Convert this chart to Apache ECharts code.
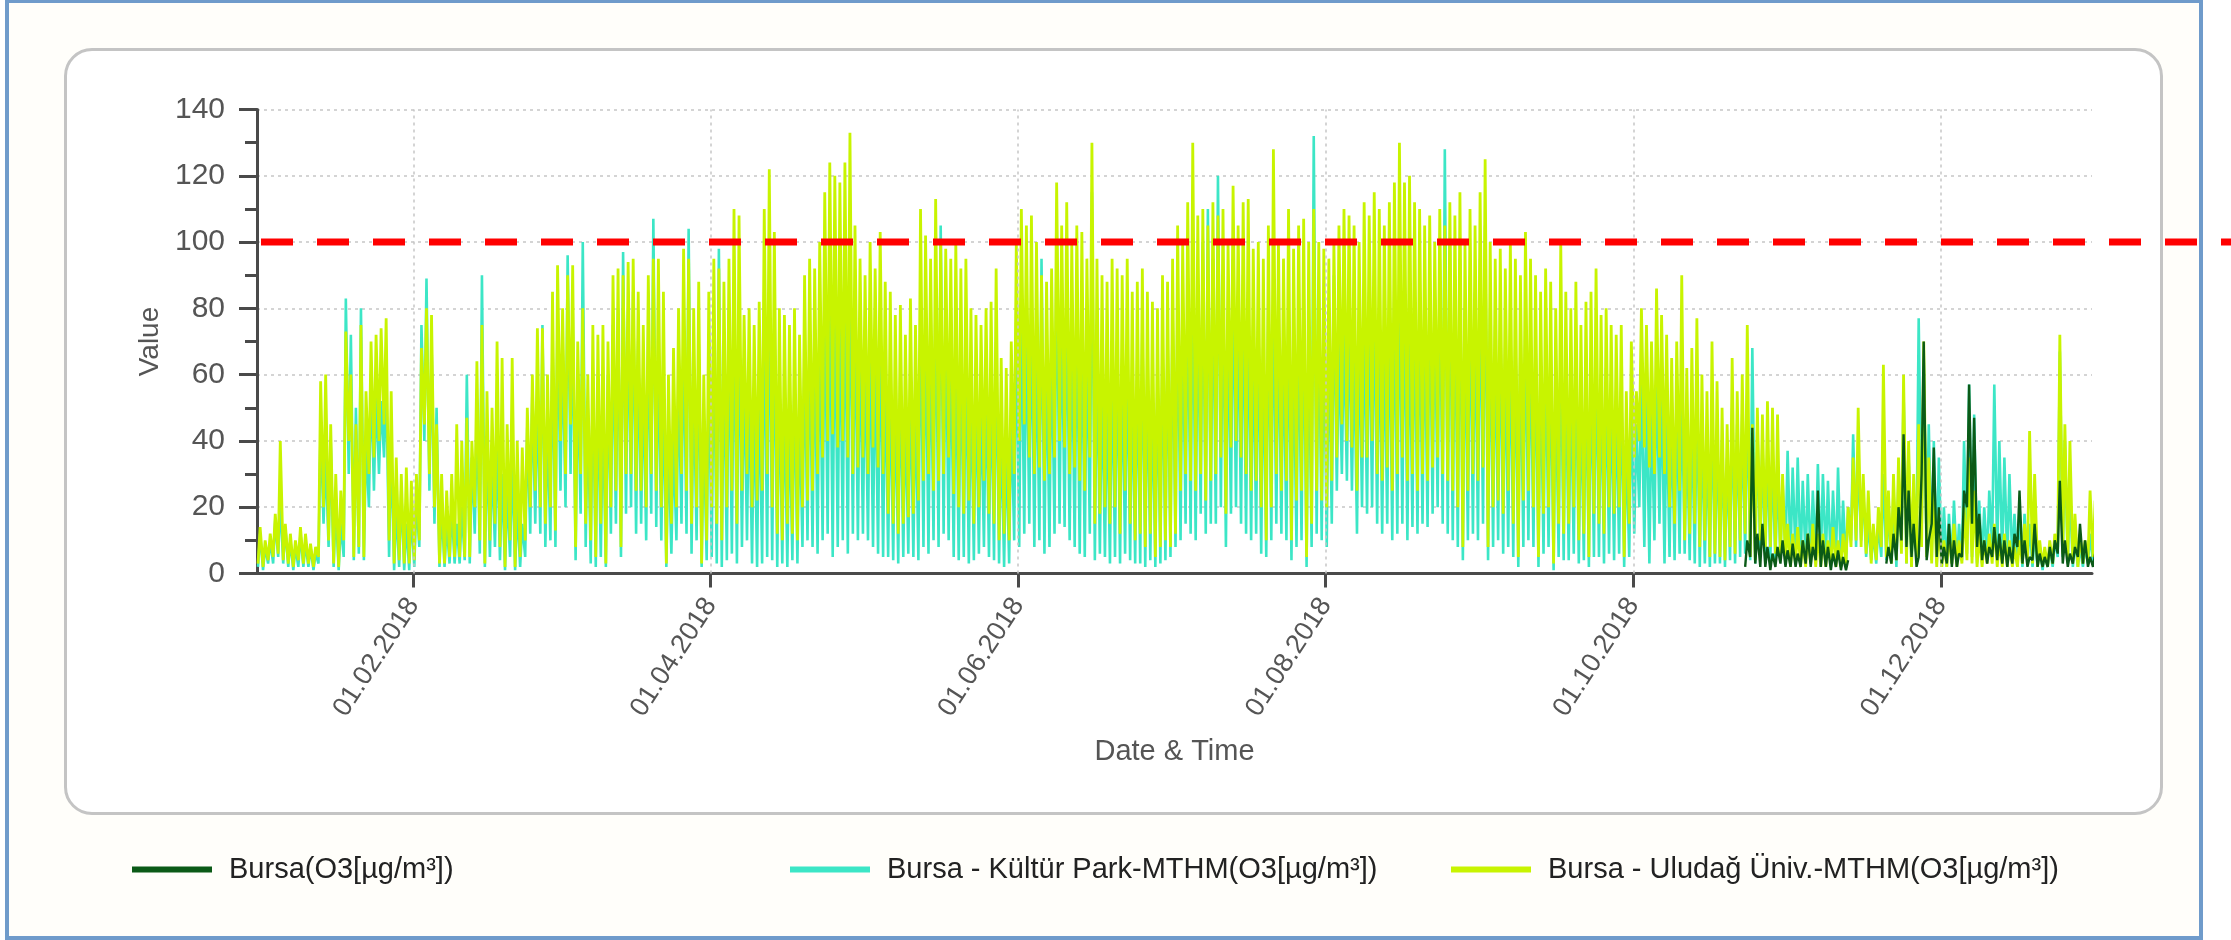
<!DOCTYPE html>
<html>
<head>
<meta charset="utf-8">
<script src="https://cdn.jsdelivr.net/npm/echarts@6/dist/echarts.min.js"></script>
<style>
  html, body { margin: 0; padding: 0; background: #ffffff; }
  #frame { position: absolute; left: 5px; top: -1px; width: 2198px; height: 941px; border: 4px solid #6f9bcb; background: #fffefa; box-sizing: border-box; }
  #panel { position: absolute; left: 64px; top: 48px; width: 2099px; height: 767px; border: 3px solid #c4c4c4; border-radius: 28px; background: #ffffff; box-sizing: border-box; }
  #chart { position: absolute; left: 0; top: 0; width: 2231px; height: 940px; }
</style>
</head>
<body>
<div id="frame"></div>
<div id="panel"></div>
<div id="chart"></div>
<script>
// ---------------- DATA ----------------
// x axis: day of year 2018 (0 = 01.01.2018)
const tickDays = [31, 90, 151, 212, 273, 334];
const tickLabels = ['01.02.2018', '01.04.2018', '01.06.2018', '01.08.2018', '01.10.2018', '01.12.2018'];
const limitValue = 100;

const nameBursa = 'Bursa(O3[µg/m³])';
const nameKultur = 'Bursa - Kültür Park-MTHM(O3[µg/m³])';
const nameUludag = 'Bursa - Uludağ Üniv.-MTHM(O3[µg/m³])';

// Bursa - Uludağ Üniv. : daily high / low (day 0..364)
const uludagHigh = [
  14,10,12,18,40,15,12,10,14,12,
  9,8,58,60,45,30,25,73,60,45,
  75,55,70,72,74,77,55,35,30,32,
  28,30,68,80,78,45,30,25,30,45,
  40,47,40,64,75,55,50,70,65,45,
  65,40,38,50,60,74,74,60,85,93,
  80,90,93,70,80,60,75,72,75,70,
  90,92,90,94,95,85,75,90,95,95,
  85,60,68,80,98,95,80,88,60,85,
  95,92,88,95,110,108,78,80,75,82,
  110,122,103,80,78,75,80,72,90,95,
  92,100,115,124,120,118,124,133,105,95,
  90,100,92,103,88,85,78,81,72,83,
  75,110,102,95,113,100,98,95,100,92,
  95,80,78,75,80,82,92,65,62,70,
  100,110,105,108,100,90,88,92,118,105,
  112,100,105,103,95,130,95,90,88,95,
  92,90,95,85,88,92,85,82,80,90,
  88,95,105,100,112,130,108,110,105,112,
  108,110,100,117,105,112,113,98,100,95,
  105,128,100,95,110,98,105,107,100,110,
  100,98,95,100,105,110,108,105,100,112,
  108,115,110,105,112,118,130,118,120,112,
  110,105,108,100,110,105,112,108,115,100,
  110,105,115,125,100,95,98,92,100,95,
  90,103,95,90,85,92,88,80,100,85,
  80,88,75,82,85,92,78,80,75,72,
  75,55,70,55,80,75,70,86,78,72,
  65,70,90,62,68,77,60,55,70,58,
  50,45,65,55,60,75,45,50,48,52,
  50,48,30,15,12,14,10,12,15,12,
  12,10,14,10,12,20,35,50,30,25,
  15,20,63,25,30,35,60,40,30,45,
  70,35,25,15,10,12,15,10,20,35,
  25,12,10,12,15,10,12,10,8,10,
  15,43,30,10,8,10,12,72,45,40,
  18,12,10,25,22
];
const uludagLow = [
  3,2,4,5,6,4,3,2,4,3,
  3,2,5,20,10,3,2,10,40,5,
  8,5,30,35,40,45,10,3,4,3,
  3,4,10,45,30,20,3,3,5,5,
  5,5,5,20,10,3,10,15,8,2,
  10,2,5,10,20,25,20,15,20,13,
  40,30,45,8,30,15,10,5,15,3,
  20,25,8,30,30,25,25,20,30,25,
  20,3,15,20,30,25,15,20,3,10,
  20,15,10,20,25,15,25,30,20,22,
  25,30,20,12,10,15,12,10,20,22,
  25,30,35,40,42,38,40,35,30,32,
  35,30,38,32,30,18,15,12,15,17,
  18,22,28,30,25,28,30,35,24,20,
  18,22,15,20,28,18,15,10,12,10,
  30,40,45,35,30,32,28,30,35,40,
  38,30,32,28,25,35,15,18,20,15,
  20,12,25,15,10,12,8,12,5,8,
  10,8,12,25,30,28,25,30,22,28,
  30,35,18,38,40,35,30,25,28,20,
  10,20,30,25,28,10,22,25,5,15,
  25,22,20,28,35,45,40,38,25,35,
  35,40,30,28,32,25,30,35,28,30,
  25,30,28,32,35,30,28,25,20,8,
  25,30,28,32,8,20,22,18,25,15,
  5,22,25,20,5,18,20,3,15,12,
  15,20,10,12,5,18,15,12,20,18,
  20,5,15,35,40,38,32,30,35,30,
  20,15,25,10,12,15,8,10,5,6,
  5,4,8,6,10,12,5,4,10,8,
  8,6,4,3,2,3,2,2,3,2,
  2,2,3,2,2,3,8,10,8,6,
  3,4,8,5,3,4,6,3,2,5,
  8,5,3,2,2,2,3,2,3,4,
  3,2,2,3,3,2,2,2,2,2,
  3,4,3,2,2,2,3,8,6,4,
  3,2,3,4,5
];

// Bursa - Kültür Park : daily high / low (day 0..364)
const kulturHigh = [
  12,8,10,16,22,14,10,8,12,9,
  8,6,45,35,40,20,15,83,72,50,
  80,40,60,55,52,60,40,20,25,15,
  18,22,75,89,70,50,20,15,20,15,
  20,60,35,50,90,40,35,40,30,25,
  35,20,15,45,55,55,75,45,70,80,
  70,96,80,60,100,50,60,55,50,60,
  75,80,97,80,85,70,60,75,107,70,
  55,40,40,60,75,104,60,70,45,65,
  75,98,70,80,85,80,65,60,55,60,
  85,95,80,60,55,50,60,50,70,75,
  75,80,90,95,90,85,95,100,85,75,
  70,75,70,80,65,60,55,62,50,60,
  55,85,80,75,90,105,80,75,70,72,
  70,60,58,55,60,62,70,45,40,50,
  80,85,80,85,75,95,70,75,104,85,
  90,80,85,80,75,115,70,60,55,65,
  70,65,70,60,65,75,62,55,60,70,
  72,80,85,80,90,95,85,100,110,95,
  120,90,80,95,85,90,85,75,80,70,
  85,90,80,75,85,70,80,85,75,132,
  85,80,75,90,70,75,80,70,75,80,
  85,90,80,75,85,90,95,90,80,85,
  85,80,90,85,95,128,100,90,95,80,
  90,85,95,105,80,75,80,70,75,72,
  70,80,75,72,65,70,68,60,75,65,
  60,68,55,62,65,70,60,62,58,55,
  58,40,52,45,60,55,50,65,58,52,
  50,55,58,45,50,55,45,40,50,42,
  40,35,50,45,48,55,68,45,40,38,
  35,30,28,37,32,35,28,30,25,33,
  30,28,25,32,22,20,42,35,25,15,
  12,15,30,20,25,30,55,35,25,77,
  65,45,40,35,20,18,22,15,40,57,
  48,22,20,25,57,40,35,30,18,20,
  18,15,12,8,6,8,10,67,40,25,
  10,8,8,12,10
];
const kulturLow = [
  2,1,3,3,5,3,2,1,2,2,
  2,1,3,15,8,2,1,5,30,4,
  6,4,20,25,30,35,5,1,2,1,
  1,2,8,40,25,15,2,2,3,3,
  3,4,3,12,6,2,5,8,4,1,
  5,1,2,5,12,15,12,8,10,8,
  25,20,30,4,18,8,3,2,5,2,
  12,15,5,18,20,12,15,10,18,14,
  10,2,6,10,15,12,6,10,2,4,
  5,3,2,4,6,3,8,10,3,2,
  3,5,4,2,3,2,4,3,8,10,
  8,6,10,12,5,8,10,6,12,10,
  12,10,8,6,5,5,4,3,5,6,
  5,4,8,6,10,8,12,10,5,4,
  5,3,4,6,8,5,4,3,2,3,
  10,8,12,15,8,10,6,8,12,15,
  14,10,8,6,5,12,4,6,5,3,
  5,3,6,4,3,3,2,4,2,3,
  4,5,8,10,15,12,10,18,12,15,
  15,20,8,18,20,15,12,10,12,6,
  5,10,15,12,10,4,8,10,2,8,
  12,10,8,15,25,30,28,25,12,20,
  18,20,15,12,15,10,12,15,10,14,
  12,15,14,18,20,15,12,10,8,4,
  10,12,10,15,4,8,10,6,8,5,
  2,8,10,8,2,6,8,1,5,4,
  4,6,3,4,2,5,5,3,6,4,
  6,2,5,12,20,8,3,10,15,3,
  5,4,6,6,4,3,2,3,2,3,
  3,2,4,3,5,6,4,3,5,3,
  4,3,5,6,4,5,3,4,3,5,
  3,4,2,3,2,3,10,8,10,5,
  4,3,5,4,3,2,8,3,2,10,
  12,6,4,3,2,2,3,2,4,6,
  5,3,3,4,8,6,4,3,3,2,
  2,3,2,2,1,2,2,5,5,3,
  2,2,2,3,3
];

// Bursa : daily high / low starting at day 295 (null = no data)
const bursaStartDay = 295;
const bursaHigh = [
  10,44,12,15,8,6,8,10,7,9,
  6,10,12,8,25,10,8,6,7,5,4,
  null,null,null,null,null,null,null,
  8,12,20,42,25,15,5,70,10,38,
  20,8,15,10,6,25,57,47,18,10,
  8,14,12,10,8,12,25,10,5,15,
  6,5,8,10,28,10,6,8,15,10,5,6
];
const bursaLow = [
  2,5,3,2,2,1,2,3,2,2,
  2,2,3,2,4,2,2,1,2,1,1,
  null,null,null,null,null,null,null,
  3,3,4,10,8,5,2,30,4,15,
  5,3,3,2,2,5,20,15,8,4,
  3,5,4,3,2,3,8,3,2,4,
  2,2,2,3,6,3,2,3,5,3,2,2
];

// ---------------- BUILD ----------------
function dailySeries(high, low, startDay) {
  const out = [];
  for (let i = 0; i < high.length; i++) {
    const d = startDay + i;
    if (high[i] == null) { out.push([d + 0.4, '-']); continue; }
    out.push([d + 0.2, low[i]]);
    out.push([d + 0.62, high[i]]);
  }
  return out;
}

const FONT = "'Liberation Sans', Arial, sans-serif";
const AXIS_COLOR = '#4a4a4a';
const TEXT_COLOR = '#555555';
const colBursa = '#0b5a17';
const colKultur = '#3ce6c6';
const colUludag = '#c8f400';

const legendBase = {
  orient: 'horizontal', padding: 0, icon: 'rect', itemWidth: 80, itemHeight: 6,
  textStyle: { fontSize: 29, color: '#222', fontFamily: FONT, padding: [0, 0, 0, 12] },
  selectedMode: false, top: 855
};

const option = {
  animation: false,
  backgroundColor: 'transparent',
  textStyle: { fontFamily: FONT },
  grid: { left: 257, right: 139, top: 109.5, bottom: 366.5, containLabel: false },
  legend: [
    Object.assign({}, legendBase, { data: [nameBursa], left: 132 }),
    Object.assign({}, legendBase, { data: [nameKultur], left: 790 }),
    Object.assign({}, legendBase, { data: [nameUludag], left: 1451 })
  ],
  xAxis: {
    type: 'value', min: 0, max: 364,
    name: 'Date & Time', nameLocation: 'middle', nameGap: 164,
    nameTextStyle: { fontSize: 29, color: TEXT_COLOR, fontFamily: FONT },
    axisLine: { show: true, onZero: false, lineStyle: { color: AXIS_COLOR, width: 3 } },
    axisTick: { show: true, customValues: tickDays, length: 14, lineStyle: { color: AXIS_COLOR, width: 3 } },
    axisLabel: {
      customValues: tickDays, rotate: 57, margin: 27, fontSize: 27, color: TEXT_COLOR, fontFamily: FONT,
      formatter: function (v) { const i = tickDays.indexOf(v); return i >= 0 ? tickLabels[i] : ''; }
    },
    splitLine: { show: false }
  },
  yAxis: {
    type: 'value', min: 0, max: 140, interval: 20,
    name: 'Value', nameLocation: 'middle', nameGap: 89,
    nameTextStyle: { fontSize: 28, color: TEXT_COLOR, fontFamily: FONT },
    axisLine: { show: true, lineStyle: { color: AXIS_COLOR, width: 3 } },
    axisTick: { show: true, length: 18, lineStyle: { color: AXIS_COLOR, width: 3 } },
    minorTick: { show: true, splitNumber: 2, length: 12, lineStyle: { color: AXIS_COLOR, width: 3 } },
    axisLabel: { margin: 32, fontSize: 30, color: TEXT_COLOR, fontFamily: FONT },
    splitLine: { show: true, lineStyle: { color: '#c6c6c6', type: [3, 4], width: 1.5 } }
  },
  series: [
    {
      name: nameKultur, type: 'line', data: dailySeries(kulturHigh, kulturLow, 0),
      showSymbol: false, symbol: 'none', color: colKultur, z: 2,
      lineStyle: { width: 2.6, color: colKultur },
      markLine: {
        silent: true, symbol: ['none', 'none'], label: { show: false },
        lineStyle: { color: '#c6c6c6', type: [3, 4], width: 1.5 },
        data: tickDays.map(function (d) { return { xAxis: d }; })
      }
    },
    {
      name: nameUludag, type: 'line', data: dailySeries(uludagHigh, uludagLow, 0),
      showSymbol: false, symbol: 'none', color: colUludag, z: 3,
      lineStyle: { width: 2.8, color: colUludag }
    },
    {
      name: nameBursa, type: 'line', data: dailySeries(bursaHigh, bursaLow, bursaStartDay),
      showSymbol: false, symbol: 'none', color: colBursa, z: 4, connectNulls: false,
      lineStyle: { width: 2.4, color: colBursa }
    }
  ]
};

const chart = echarts.init(document.getElementById('chart'), null, { renderer: 'canvas' });
chart.setOption(option);

// red dashed limit line at value 100, drawn from the plot's left edge to the page edge
const yLimit = chart.convertToPixel({ yAxisIndex: 0 }, limitValue);
const xStart = chart.convertToPixel({ xAxisIndex: 0 }, 0);
chart.setOption({
  graphic: [{
    type: 'line', z: 100, silent: true,
    shape: { x1: xStart + 4, y1: yLimit, x2: chart.getWidth(), y2: yLimit },
    style: { stroke: '#ff0000', lineWidth: 7, lineDash: [32, 24] }
  }]
});
</script>
</body>
</html>
